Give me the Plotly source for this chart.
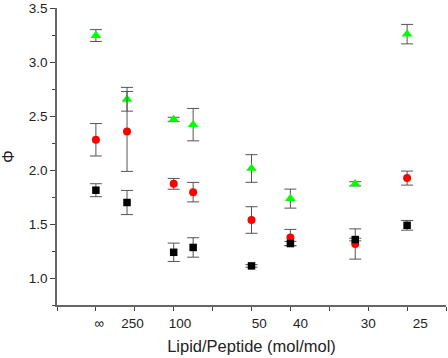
import plotly.graph_objects as go

# Lipid/peptide ratios of the sample groups (inf = peptide-free)
lipid_peptide = [float("inf"), 250, 100, 80, 50, 40, 30, 25]
# x is plotted as peptide/lipid (mol/mol)
x_vals = [1.0 / r for r in lipid_peptide]

green_y = [3.245, 2.655, 2.468, 2.420, 2.014, 1.735, 1.872, 3.258]
green_err = [0.055, 0.110, 0.020, 0.150, 0.128, 0.088, 0.020, 0.090]

red_y = [2.280, 2.357, 1.872, 1.795, 1.537, 1.375, 1.315, 1.925]
red_err = [0.150, 0.370, 0.050, 0.090, 0.123, 0.075, 0.140, 0.065]

black_y = [1.813, 1.699, 1.238, 1.283, 1.112, 1.319, 1.356, 1.488]
black_err = [0.060, 0.112, 0.085, 0.090, 0.012, 0.020, 0.012, 0.045]

tick_text = ["\u221e", "250", "100", "50", "40", "30", "25"]
tick_pos = [0.0004, 0.0047, 0.0108, 0.0210, 0.0263, 0.0350, 0.0417]

FONT = "Arial, Liberation Sans, sans-serif"
ERR = dict(type="data", thickness=1, width=6, color="#555555")

fig = go.Figure()
fig.add_trace(go.Scatter(
    x=x_vals, y=green_y, mode="markers",
    marker=dict(symbol="triangle-up", size=9.5, color="#00ff00"),
    error_y=dict(array=green_err, **ERR), showlegend=False))
fig.add_trace(go.Scatter(
    x=x_vals, y=red_y, mode="markers",
    marker=dict(symbol="circle", size=8, color="#ff0000"),
    error_y=dict(array=red_err, **ERR), showlegend=False))
fig.add_trace(go.Scatter(
    x=x_vals, y=black_y, mode="markers",
    marker=dict(symbol="square", size=7.5, color="#000000"),
    error_y=dict(array=black_err, **ERR), showlegend=False))

fig.update_layout(
    width=448, height=358,
    margin=dict(l=57, r=2, t=8, b=53),
    paper_bgcolor="white", plot_bgcolor="white",
    font=dict(family=FONT, size=13.5, color="#222222"),
    xaxis=dict(
        range=[-0.005, 0.045], showgrid=False, zeroline=False, automargin=False,
        showline=True, linecolor="#666666", linewidth=1.5,
        tickmode="array", tickvals=tick_pos, ticktext=tick_text,
        ticks="", ticklen=6, ticklabelstandoff=5,
        minor=dict(tickmode="linear", tick0=0, dtick=0.005,
                   ticks="outside", ticklen=4, tickcolor="#444444", tickwidth=1),
        title=dict(text="Lipid/Peptide (mol/mol)", font=dict(size=16.5, color="#222222"), standoff=10),
    ),
    yaxis=dict(
        range=[0.75, 3.5], showgrid=False, zeroline=False, automargin=False,
        showline=True, linecolor="#666666", linewidth=1.5,
        tickmode="linear", tick0=1.0, dtick=0.5, tickformat=".1f",
        ticks="outside", ticklen=5, tickcolor="#444444",
        minor=dict(dtick=0.25, ticks="outside", ticklen=3, tickcolor="#444444"),
        title=dict(text="\u03a6", font=dict(size=16, color="#222222"), standoff=10),
    ),
)

fig.write_html("out.html",
               config={"displayModeBar": False},
               post_script="document.body.style.margin='0';document.body.style.overflow='hidden';")
